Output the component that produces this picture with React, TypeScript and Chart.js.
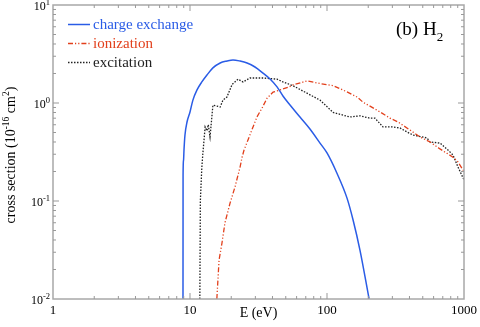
import React, { useEffect, useRef } from "react";
import { Chart, registerables } from "chart.js";
Chart.register(...registerables);

// charge exchange
const chargeE = [8.89, 8.9, 8.97, 9.04, 9.19, 9.51, 10.0, 10.5, 11.25, 12.2, 13.3, 14.7, 16.6, 18.6, 20.6, 23.2, 26.1, 29.8, 34.1, 38.4, 43.2, 47.7, 53.7, 63.5, 75.1, 88.9, 100, 118, 140, 155, 174, 203];
const chargeS = [0.01, 0.184, 0.26, 0.331, 0.471, 0.64, 0.81, 1.07, 1.36, 1.64, 1.93, 2.28, 2.56, 2.68, 2.75, 2.68, 2.56, 2.33, 2.02, 1.76, 1.46, 1.18, 0.955, 0.72, 0.543, 0.39, 0.309, 0.193, 0.107, 0.064, 0.0316, 0.01];
// ionization
const ionE = [15.7, 16.3, 17.1, 18.0, 19.6, 21.3, 23.2, 24.0, 24.8, 26.5, 30.8, 33.6, 36.5, 40.4, 45.4, 52.8, 56.5, 71.4, 88.9, 111, 140, 166, 183, 244, 288, 330, 403, 478, 565, 668, 831, 904, 1000];
const ionS = [0.01, 0.025, 0.037, 0.06, 0.095, 0.139, 0.222, 0.28, 0.331, 0.42, 0.72, 0.89, 1.12, 1.29, 1.36, 1.46, 1.53, 1.68, 1.58, 1.5, 1.3, 1.15, 1.02, 0.81, 0.7, 0.64, 0.53, 0.45, 0.4, 0.34, 0.28, 0.25, 0.2];
// excitation
const excE = [11.8, 11.9, 12.2, 12.4, 12.9, 13.3, 13.6, 14.0, 14.7, 15.7, 16.6, 17.4, 18.6, 20.3, 22.4, 24.4, 27.4, 34.1, 43.2, 47.7, 56.5, 71.4, 88.9, 111, 147, 174, 206, 224, 256, 303, 341, 384, 424, 537, 565, 668, 764, 831, 904, 1000];
const excS = [0.01, 0.1, 0.22, 0.3, 0.57, 0.52, 0.6, 0.45, 0.95, 0.93, 0.91, 1.07, 1.15, 1.55, 1.75, 1.64, 1.8, 1.8, 1.75, 1.64, 1.5, 1.26, 1.07, 0.8, 0.72, 0.74, 0.7, 0.7, 0.57, 0.57, 0.556, 0.506, 0.471, 0.44, 0.4, 0.39, 0.331, 0.295, 0.222, 0.164];

const xTickValues = [1, 10, 100, 1000];
const xTickLabels = ["1", "10", "100", "1000"];
const yTickValues = [10, 1, 0.1, 0.01];
const yTickExps = ["1", "0", "-1", "-2"];

const seriesNames = ["charge exchange", "ionization", "excitation"];
const seriesColors = ["#2a5ce6", "#e2401c", "#222222"];
const seriesDash: number[][] = [[], [5, 2, 1.2, 2, 1.2, 2], [1.5, 1.5]];
const seriesWidth = [1.5, 1.3, 1.3];
const seriesSmooth = [true, false, false];

const FONT = '"Liberation Serif", "Times New Roman", serif';

type Part = { t: string; size: number; dy: number };

function drawParts(ctx: CanvasRenderingContext2D, parts: Part[], x: number, y: number, align: string) {
  let total = 0;
  const widths: number[] = [];
  for (const p of parts) {
    ctx.font = `${p.size}px ${FONT}`;
    const w = ctx.measureText(p.t).width;
    widths.push(w);
    total += w;
  }
  let cx = align === "right" ? x - total : align === "center" ? x - total / 2 : x;
  ctx.textAlign = "left";
  ctx.textBaseline = "alphabetic";
  parts.forEach((p, i) => {
    ctx.font = `${p.size}px ${FONT}`;
    ctx.fillText(p.t, cx, y + p.dy);
    cx += widths[i];
  });
}

const overlay = {
  id: "overlay",
  afterDraw(chart: any) {
    const ctx: CanvasRenderingContext2D = chart.ctx;
    const xs = chart.scales.x;
    const ys = chart.scales.y;
    const a = chart.chartArea;
    ctx.save();
    // frame
    ctx.strokeStyle = "#a8a8a8";
    ctx.lineWidth = 1.5;
    ctx.setLineDash([]);
    ctx.strokeRect(a.left, a.top, a.right - a.left, a.bottom - a.top);
    // ticks
    ctx.lineWidth = 1;
    ctx.strokeStyle = "#999";
    ctx.beginPath();
    for (let d = 0; d < 3; d++) {
      for (let k = 1; k <= 9; k++) {
        const v = k * Math.pow(10, d);
        const px = xs.getPixelForValue(v);
        const len = k === 1 ? 6 : 3;
        if (k === 1 && d === 0) continue;
        ctx.moveTo(px, a.bottom);
        ctx.lineTo(px, a.bottom - len);
        ctx.moveTo(px, a.top);
        ctx.lineTo(px, a.top + len);
      }
    }
    for (let d = -2; d < 1; d++) {
      for (let k = 1; k <= 9; k++) {
        const v = k * Math.pow(10, d);
        const py = ys.getPixelForValue(v);
        const len = k === 1 ? 6 : 3;
        if (k === 1 && d === -2) continue;
        ctx.moveTo(a.left, py);
        ctx.lineTo(a.left + len, py);
        ctx.moveTo(a.right, py);
        ctx.lineTo(a.right - len, py);
      }
    }
    ctx.stroke();

    ctx.fillStyle = "#000";
    // x tick labels
    xTickValues.forEach((v, i) => {
      const px = xs.getPixelForValue(v);
      drawParts(ctx, [{ t: xTickLabels[i], size: 13, dy: 0 }], px, a.bottom + 15, "center");
    });
    // y tick labels
    yTickValues.forEach((v, i) => {
      const py = ys.getPixelForValue(v);
      drawParts(
        ctx,
        [
          { t: "10", size: 12, dy: 0 },
          { t: yTickExps[i], size: 8.5, dy: -5 },
        ],
        a.left - 3,
        py + 5,
        "right"
      );
    });
    // x title
    drawParts(ctx, [{ t: "E (eV)", size: 14, dy: 0 }], (a.left + a.right) / 2, 317, "center");
    // y title
    ctx.save();
    ctx.translate(15, 155);
    ctx.rotate(-Math.PI / 2);
    drawParts(
      ctx,
      [
        { t: "cross section (10", size: 14, dy: 0 },
        { t: "-16", size: 9.5, dy: -6 },
        { t: " cm", size: 14, dy: 0 },
        { t: "2", size: 9.5, dy: -6 },
        { t: ")", size: 14, dy: 0 },
      ],
      0,
      0,
      "center"
    );
    ctx.restore();
    // annotation
    drawParts(
      ctx,
      [
        { t: "(b) H", size: 19, dy: 0 },
        { t: "2", size: 13, dy: 6 },
      ],
      396,
      35,
      "left"
    );
    // legend
    const rows = [24.5, 43.5, 62.5];
    seriesNames.forEach((name, i) => {
      ctx.strokeStyle = seriesColors[i];
      ctx.lineWidth = seriesWidth[i];
      ctx.setLineDash(seriesDash[i]);
      ctx.beginPath();
      ctx.moveTo(68, rows[i]);
      ctx.lineTo(90, rows[i]);
      ctx.stroke();
      ctx.setLineDash([]);
      ctx.fillStyle = seriesColors[i];
      drawParts(ctx, [{ t: name, size: 15, dy: 0 }], 93, rows[i] + 4.5, "left");
    });
    ctx.restore();
  },
};

export default function App() {
  const ref = useRef<HTMLCanvasElement | null>(null);
  useEffect(() => {
    if (!ref.current) return;
    const mk = (E: number[], S: number[]) => E.map((x, i) => ({ x, y: S[i] }));
    const allData = [mk(chargeE, chargeS), mk(ionE, ionS), mk(excE, excS)];
    const chart = new Chart(ref.current, {
      type: "line",
      data: {
        datasets: allData.map((d, i) => ({
          label: seriesNames[i],
          data: d,
          borderColor: seriesColors[i],
          borderWidth: seriesWidth[i],
          borderDash: seriesDash[i],
          pointRadius: 0,
          tension: seriesSmooth[i] ? 0.4 : 0,
          cubicInterpolationMode: seriesSmooth[i] ? "monotone" : "default",
          fill: false,
        })),
      },
      options: {
        responsive: false,
        animation: false,
        parsing: true,
        layout: { padding: { top: 5, right: 16, left: 0, bottom: 0 } },
        plugins: { legend: { display: false }, tooltip: { enabled: false } },
        scales: {
          x: {
            type: "logarithmic",
            min: 1,
            max: 1000,
            grid: { display: false },
            border: { display: false },
            ticks: { display: false },
            afterFit: (s: any) => {
              s.height = 28;
            },
          },
          y: {
            type: "logarithmic",
            min: 0.01,
            max: 10,
            grid: { display: false },
            border: { display: false },
            ticks: { display: false },
            afterFit: (s: any) => {
              s.width = 53;
            },
          },
        },
      } as any,
      plugins: [overlay],
    });
    return () => chart.destroy();
  }, []);
  return (
    <div style={{ position: "absolute", left: 0, top: 0, width: 480, height: 327, background: "#fff" }}>
      <canvas ref={ref} width={480} height={327} />
    </div>
  );
}
